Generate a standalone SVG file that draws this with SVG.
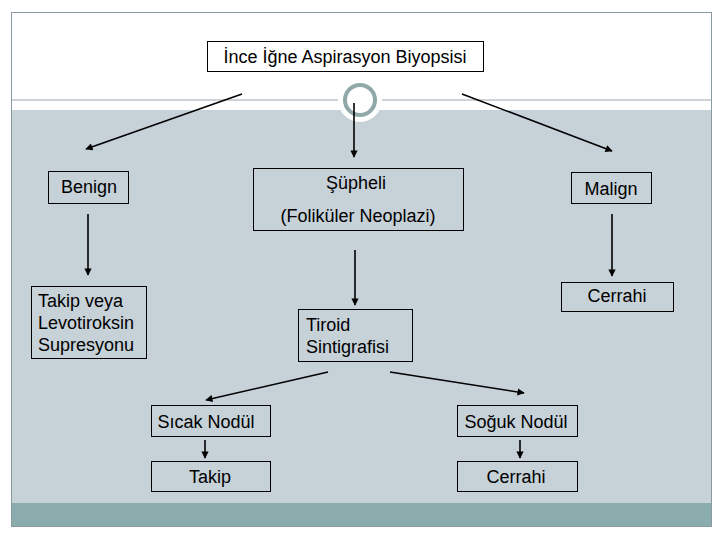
<svg xmlns="http://www.w3.org/2000/svg" width="720" height="540" viewBox="0 0 720 540">
<style>
.box{fill:none;stroke:#000;stroke-width:1}
.t{font-family:"Liberation Sans",Arial,sans-serif;font-size:18px;fill:#000}
.c{text-anchor:middle}
.ln{stroke:#000;stroke-width:1.6;fill:none;marker-end:url(#ah)}
</style>
<defs>
<marker id="ah" viewBox="0 0 10 10" refX="9" refY="5" markerWidth="5" markerHeight="4.5" orient="auto" markerUnits="strokeWidth">
<path d="M0,0 L10,5 L0,10 z" fill="#000"/>
</marker>
</defs>
<rect x="0" y="0" width="720" height="540" fill="#fff"/>
<g id="frame">
<rect x="11" y="110" width="701" height="394" fill="#c6d1d8"/>
<rect x="11" y="503" width="701" height="24" fill="#8aacac"/>
<line x1="11" y1="100" x2="712" y2="100" stroke="#9aa6ad" stroke-width="1"/>
<rect x="11.5" y="12.5" width="700" height="514" fill="none" stroke="#8a9aa0" stroke-width="1"/>
<circle cx="360" cy="100" r="22" fill="#fff"/>
<circle cx="360" cy="100" r="15" fill="#fff" stroke="#8fa8a8" stroke-width="4"/>
</g>
<g id="connectors">
<line class="ln" x1="242" y1="94" x2="86" y2="149"/>
<line class="ln" x1="354" y1="103" x2="354" y2="157"/>
<line class="ln" x1="462" y1="94" x2="612" y2="151"/>
<line class="ln" x1="88" y1="214" x2="88" y2="275"/>
<line class="ln" x1="355" y1="250" x2="355" y2="305"/>
<line class="ln" x1="612" y1="214" x2="612" y2="276"/>
<line class="ln" x1="328" y1="372" x2="206" y2="400"/>
<line class="ln" x1="390" y1="372" x2="524" y2="393"/>
<line class="ln" x1="205" y1="440" x2="205" y2="458"/>
<line class="ln" x1="520" y1="440" x2="520" y2="458"/>
</g>
<g id="n-biopsi">
<rect class="box" x="207.5" y="41.5" width="276" height="30" fill="#fff"/>
<text class="t c" x="345" y="63">İnce İğne Aspirasyon Biyopsisi</text>
</g>
<g id="n-benign">
<rect class="box" x="48.5" y="171.5" width="80" height="32"/>
<text class="t c" x="89" y="193">Benign</text>
</g>
<g id="n-supheli">
<rect class="box" x="253.5" y="168.5" width="210" height="62"/>
<text class="t c" x="356" y="189">Şüpheli</text>
<text class="t c" x="358" y="222">(Foliküler Neoplazi)</text>
</g>
<g id="n-malign">
<rect class="box" x="571.5" y="172.5" width="80" height="31"/>
<text class="t c" x="611" y="195">Malign</text>
</g>
<g id="n-takipveya">
<rect class="box" x="31.5" y="286.5" width="115" height="72"/>
<text class="t" x="38" y="307">Takip veya</text>
<text class="t" x="38" y="329">Levotiroksin</text>
<text class="t" x="38" y="351">Supresyonu</text>
</g>
<g id="n-cerrahi1">
<rect class="box" x="561.5" y="282.5" width="112" height="29"/>
<text class="t c" x="617" y="302">Cerrahi</text>
</g>
<g id="n-tiroid">
<rect class="box" x="298.5" y="309.5" width="114" height="52"/>
<text class="t" x="306" y="331">Tiroid</text>
<text class="t" x="306" y="353">Sintigrafisi</text>
</g>
<g id="n-sicak">
<rect class="box" x="151.5" y="405.5" width="119" height="31"/>
<text class="t c" x="206" y="428">Sıcak Nodül</text>
</g>
<g id="n-soguk">
<rect class="box" x="457.5" y="405.5" width="120" height="31"/>
<text class="t c" x="516" y="428">Soğuk Nodül</text>
</g>
<g id="n-takip">
<rect class="box" x="151.5" y="461.5" width="119" height="30"/>
<text class="t c" x="210" y="483">Takip</text>
</g>
<g id="n-cerrahi2">
<rect class="box" x="457.5" y="461.5" width="120" height="30"/>
<text class="t c" x="516" y="483">Cerrahi</text>
</g>
</svg>
